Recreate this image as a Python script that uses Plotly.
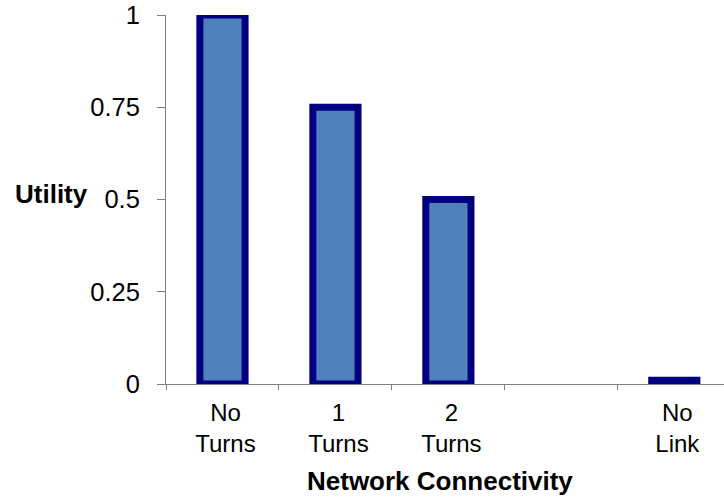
import plotly.graph_objects as go

# Chart data
categories = ["No<br>Turns", "1<br>Turns", "2<br>Turns", " ", "No<br>Link"]
utility = [1.0, 0.75, 0.5, None, 0.01]
y_ticks = [0, 0.25, 0.5, 0.75, 1]
y_tick_text = ["0", "0.25", "0.5", "0.75", "1"]

FONT = "Arial, 'Liberation Sans', sans-serif"
AXIS_GRAY = "#808080"

W, H = 724, 504
M_L, M_R, M_T, M_B = 166, 0, 14.5, 119.5
plot_w = W - M_L - M_R
plot_h = H - M_T - M_B


def px_to_paper_x(px):
    return (px - M_L) / plot_w


def px_to_paper_y(py):
    return (H - M_B - py) / plot_h


fig = go.Figure(
    go.Bar(
        x=categories,
        y=utility,
        width=0.4,
        marker=dict(color="#4F81BD", line=dict(color="#000080", width=7)),
        hoverinfo="x+y",
    )
)

fig.update_layout(
    width=W,
    height=H,
    margin=dict(l=M_L, r=M_R, t=M_T, b=M_B, pad=0),
    paper_bgcolor="white",
    plot_bgcolor="white",
    showlegend=False,
    font=dict(family=FONT, size=24, color="black"),
    xaxis=dict(
        type="category",
        categoryorder="array",
        categoryarray=categories,
        range=[-0.5, 4.44],
        showline=True,
        linecolor=AXIS_GRAY,
        linewidth=1,
        ticks="outside",
        tickson="boundaries",
        ticklen=5,
        tickcolor=AXIS_GRAY,
        ticklabelstandoff=7,
        ticklabelshift=3,
        showgrid=False,
        zeroline=False,
        tickfont=dict(family=FONT, size=24, color="black"),
    ),
    yaxis=dict(
        range=[0, 1],
        tickvals=y_ticks,
        ticktext=y_tick_text,
        showline=True,
        linecolor=AXIS_GRAY,
        linewidth=1,
        ticks="outside",
        ticklen=8,
        tickcolor=AXIS_GRAY,
        ticklabelstandoff=12,
        showgrid=False,
        zeroline=False,
        tickfont=dict(family=FONT, size=25.5, color="black"),
    ),
    annotations=[
        dict(
            text="<b>Utility</b>",
            xref="paper",
            yref="paper",
            x=px_to_paper_x(51),
            y=px_to_paper_y(194),
            xanchor="center",
            yanchor="middle",
            showarrow=False,
            font=dict(family=FONT, size=26, color="black"),
        ),
        dict(
            text="<b>Network Connectivity</b>",
            xref="paper",
            yref="paper",
            x=px_to_paper_x(440),
            y=px_to_paper_y(482),
            xanchor="center",
            yanchor="middle",
            showarrow=False,
            font=dict(family=FONT, size=26, color="black"),
        ),
    ],
)

fig.write_html("out.html")
